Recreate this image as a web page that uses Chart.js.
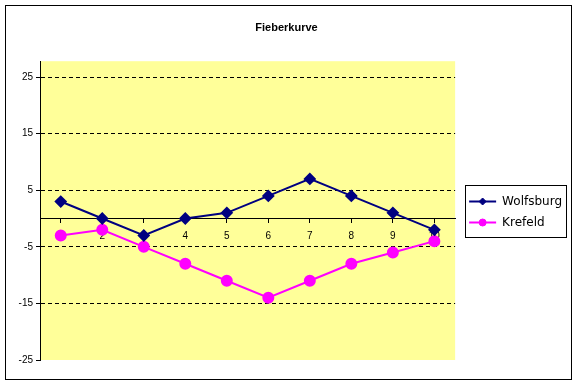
<!DOCTYPE html>
<html>
<head>
<meta charset="utf-8">
<script src="https://cdn.jsdelivr.net/npm/chart.js@4.4.1/dist/chart.umd.min.js"></script>
<style>
  html, body { margin: 0; padding: 0; background: #fff; }
  canvas { display: block; }
</style>
</head>
<body>
<canvas id="chart" width="577" height="385"></canvas>
<script>
// values
const categories = ['1', '2', '3', '4', '5', '6', '7', '8', '9', '10'];
const wolfsburg = [3, 0, -3, 0, 1, 4, 7, 4, 1, -2];
const krefeld = [-3, -2, -5, -8, -11, -14, -11, -8, -6, -4];
const yTicks = [-25, -15, -5, 5, 15, 25];

const FONT = 'Liberation Sans, Arial, sans-serif';
const LEGEND_FONT = 'DejaVu Sans, sans-serif';

// white page, yellow plot area, outer frame
const background = {
    id: 'background',
    beforeDraw(chart) {
        const { ctx, chartArea: a } = chart;
        ctx.save();
        ctx.fillStyle = '#fff';
        ctx.fillRect(0, 0, chart.width, chart.height);
        ctx.fillStyle = '#FFFF99';
        ctx.fillRect(a.left, a.top, a.right - a.left, a.bottom - a.top);
        ctx.strokeStyle = '#000';
        ctx.lineWidth = 1;
        ctx.strokeRect(5.5, 5.5, chart.width - 11, chart.height - 11);
        ctx.restore();
    }
};

// excel style legend: moved next to the plot middle, framed, marker on the line
const legendFrame = {
    id: 'legendFrame',
    afterLayout(chart) {
        const legend = chart.legend;
        if (!legend) return;
        const a = chart.chartArea;
        const h = legend.bottom - legend.top;
        const dy = Math.round((a.top + a.bottom) / 2 + 1 - h / 2) - legend.top;
        legend.top += dy;
        legend.bottom += dy;
        legend.left += 5;
        legend.right += 5;
    },
    afterDraw(chart) {
        const legend = chart.legend;
        if (!legend || !legend.legendHitBoxes.length) return;
        const boxes = legend.legendHitBoxes;
        const ctx = chart.ctx;
        let x0 = Infinity, y0 = Infinity, x1 = -Infinity, y1 = -Infinity;
        boxes.forEach(b => {
            x0 = Math.min(x0, b.left); y0 = Math.min(y0, b.top);
            x1 = Math.max(x1, b.left + b.width); y1 = Math.max(y1, b.top + b.height);
        });
        ctx.save();
        ctx.strokeStyle = '#000';
        ctx.lineWidth = 1;
        ctx.strokeRect(Math.round(x0 - 4) + 0.5, Math.round(y0 - 11) + 0.5,
            Math.round(x1 - x0 + 8), Math.round(y1 - y0 + 19));
        boxes.forEach((b, i) => {
            const ds = chart.data.datasets[i];
            ctx.fillStyle = ds.pointBackgroundColor;
            ctx.strokeStyle = ds.pointBorderColor;
            Chart.helpers.drawPoint(ctx, { pointStyle: ds.pointStyle, radius: 3.5, borderWidth: 1 },
                b.left + 13.5, b.top + b.height / 2);
        });
        ctx.restore();
    }
};

new Chart(document.getElementById('chart'), {
    type: 'line',
    data: {
        labels: categories,
        datasets: [{
            label: 'Wolfsburg',
            data: wolfsburg,
            borderColor: '#000080',
            backgroundColor: '#000080',
            pointBackgroundColor: '#000080',
            pointBorderColor: '#000080',
            pointStyle: 'rectRot',
            pointRadius: 5,
            borderWidth: 2,
            tension: 0
        }, {
            label: 'Krefeld',
            data: krefeld,
            borderColor: '#FF00FF',
            backgroundColor: '#FF00FF',
            pointBackgroundColor: '#FF00FF',
            pointBorderColor: '#FF00FF',
            pointStyle: 'circle',
            pointRadius: 5,
            borderWidth: 2,
            tension: 0
        }]
    },
    options: {
        responsive: false,
        animation: false,
        devicePixelRatio: 1,
        layout: { padding: { top: 6, left: 6, right: 10, bottom: 25 } },
        plugins: {
            title: {
                display: true,
                text: 'Fieberkurve',
                color: '#000',
                font: { family: FONT, size: 11, weight: 'bold' },
                padding: { top: 15, bottom: 27 }
            },
            legend: {
                position: 'right',
                labels: {
                    color: '#000',
                    font: { family: LEGEND_FONT, size: 12 },
                    boxWidth: 27,
                    boxHeight: 2,
                    padding: 9,
                    generateLabels(chart) {
                        return Chart.defaults.plugins.legend.labels.generateLabels(chart)
                            .map(item => Object.assign(item, { lineWidth: 0 }));
                    }
                }
            },
            tooltip: { enabled: false }
        },
        scales: {
            x: {
                position: { y: 0 },
                offset: true,
                border: { color: '#000', width: 1 },
                grid: { drawOnChartArea: false, drawTicks: true, tickLength: 4, tickColor: '#000' },
                ticks: { color: '#000', font: { family: FONT, size: 10 }, padding: 8, maxRotation: 0 }
            },
            y: {
                min: -25,
                max: 27.8,
                afterBuildTicks(scale) {
                    scale.ticks = yTicks.map(v => ({ value: v }));
                },
                afterFit(scale) { scale.width = 34; },
                border: { color: '#000', width: 1, dash: [4, 3] },
                grid: {
                    color: ctx => (ctx.tick && ctx.tick.value === -25) ? 'rgba(0,0,0,0)' : '#000',
                    tickColor: '#000',
                    tickBorderDash: [],
                    tickLength: 4,
                    lineWidth: 1
                },
                ticks: { color: '#000', font: { family: FONT, size: 10 }, padding: 3 }
            }
        }
    },
    plugins: [background, legendFrame]
});
</script>
</body>
</html>
